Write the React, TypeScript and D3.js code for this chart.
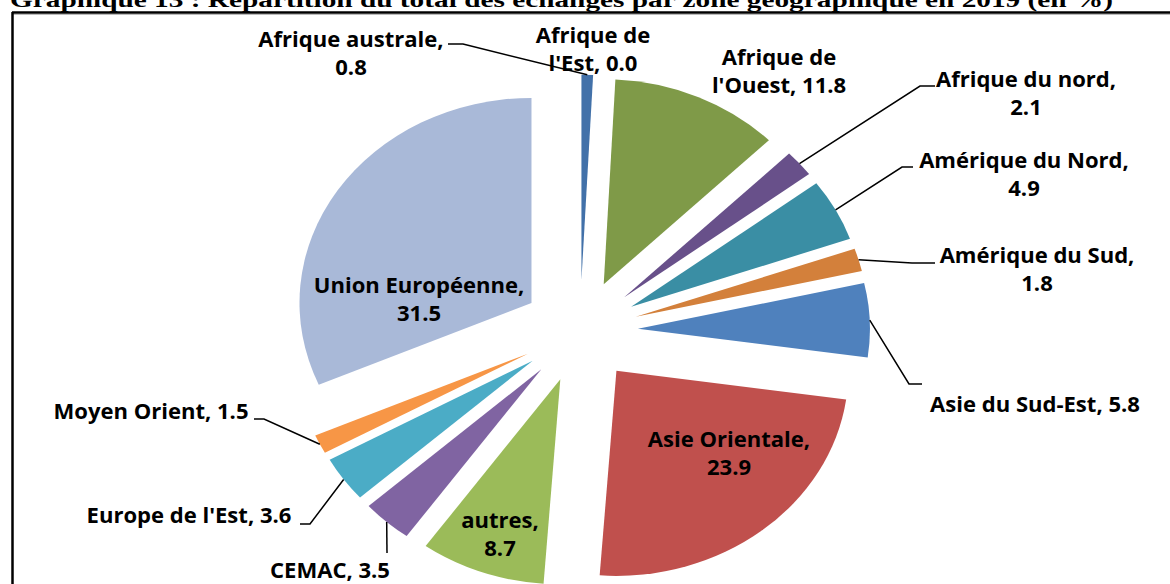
import React from "react";
import * as d3 from "d3";

// ---- data ----
const categories = [
  "Afrique australe",
  "Afrique de l'Est",
  "Afrique de l'Ouest",
  "Afrique du nord",
  "Amérique du Nord",
  "Amérique du Sud",
  "Asie du Sud-Est",
  "Asie Orientale",
  "autres",
  "CEMAC",
  "Europe de l'Est",
  "Moyen Orient",
  "Union Européenne",
];
const values = [0.8, 0.0, 11.8, 2.1, 4.9, 1.8, 5.8, 23.9, 8.7, 3.5, 3.6, 1.5, 31.5];
const colors = [
  "#4271A9", "#B84845", "#7F9A48", "#68508A", "#3A8EA4", "#D3803B",
  "#4F81BD", "#C0504D", "#9BBB59", "#8064A2", "#4BACC6", "#F79646", "#A9B9D8",
];
const title = "Graphique 13 : Répartition du total des échanges par zone géographique en 2019 (en %)";

// label layout: [line breaks, center x, first baseline, leader elbow points]
type Lbl = { lines: string[]; x: number; y: number; leader?: [number, number][] };
const labelLayout: Lbl[] = [
  { lines: ["Afrique australe,", "0.8"], x: 351, y: 47, leader: [[448, 44], [463, 44]] },
  { lines: ["Afrique de", "l'Est, 0.0"], x: 593, y: 43 },
  { lines: ["Afrique de", "l'Ouest, 11.8"], x: 779, y: 65 },
  { lines: ["Afrique du nord,", "2.1"], x: 1026, y: 87, leader: [[935, 86], [920, 86]] },
  { lines: ["Amérique du Nord,", "4.9"], x: 1024, y: 168, leader: [[913, 167], [902, 167]] },
  { lines: ["Amérique du Sud,", "1.8"], x: 1037, y: 263, leader: [[935, 263], [912, 263]] },
  { lines: ["Asie du Sud-Est,  5.8"], x: 1035, y: 412, leader: [[922, 384], [909, 384]] },
  { lines: ["Asie Orientale,", "23.9"], x: 729, y: 447 },
  { lines: ["autres,", "8.7"], x: 500, y: 528 },
  { lines: ["CEMAC, 3.5"], x: 330, y: 578, leader: [[387, 553]] },
  { lines: ["Europe de l'Est, 3.6"], x: 189, y: 523, leader: [[300, 524], [310, 524]] },
  { lines: ["Moyen Orient, 1.5"], x: 151, y: 419, leader: [[254, 419], [264, 419]] },
  { lines: ["Union Européenne,", "31.5"], x: 419, y: 293 },
];

const W = 1170;
const H = 584;
const cx = 580;
const cy = 331;
const R = 205;
const sx = 232 / 205; // horizontal stretch of the picture
const explode = 0.25 * R;
const lineH = 28;
const textStretch = 1.05;

export default function App() {
  const pie = d3
    .pie<number>()
    .sort(null)
    .value((d) => d)
    .startAngle(0)
    .endAngle(2 * Math.PI);
  const arcs = pie(values);
  const arc = d3.arc<d3.PieArcDatum<number>>().innerRadius(0).outerRadius(R);

  const anchorOf = (a: d3.PieArcDatum<number>): [number, number] => {
    const m = (a.startAngle + a.endAngle) / 2;
    const r = R + explode;
    return [cx + sx * r * Math.sin(m), cy - r * Math.cos(m)];
  };

  const line = d3.line();

  return (
    <svg
      width={W}
      height={H}
      style={{ position: "absolute", left: 0, top: 0, background: "#fff" }}
      fontFamily="'Open Sans', sans-serif"
    >
      <rect x={0} y={0} width={W} height={H} fill="#fff" />
      <text
        x={10}
        y={7}
        fontFamily="'Liberation Serif', 'Times New Roman', serif"
        fontWeight="bold"
        fontSize={22}
        textLength={1103}
        lengthAdjust="spacingAndGlyphs"
        fill="#000"
      >
        {title}
      </text>
      <line x1={12} y1={12.5} x2={W} y2={12.5} stroke="#000" strokeWidth={2.5} />
      <line x1={12} y1={14.5} x2={W} y2={14.5} stroke="#bbb" strokeWidth={1} />
      <line x1={12.5} y1={12} x2={12.5} y2={H} stroke="#000" strokeWidth={2.5} />

      <g transform={`translate(${cx},${cy}) scale(${sx},1)`}>
        {arcs.map((a, i) => {
          const m = (a.startAngle + a.endAngle) / 2;
          const dx = explode * Math.sin(m);
          const dy = -explode * Math.cos(m);
          return (
            <path
              key={categories[i]}
              d={arc(a) || ""}
              transform={`translate(${dx},${dy})`}
              fill={colors[i]}
            />
          );
        })}
      </g>

      {labelLayout.map((l, i) => {
        if (!l.leader) return null;
        const pts = [...l.leader, anchorOf(arcs[i])] as [number, number][];
        return (
          <path key={"ld" + i} d={line(pts) || ""} fill="none" stroke="#000" strokeWidth={1.5} />
        );
      })}

      {labelLayout.map((l, i) => (
        <g key={"lb" + i} transform={`translate(${l.x},${l.y}) scale(${textStretch},1)`}>
          <text textAnchor="middle" fontSize={21} fontWeight="bold" fill="#000">
            {l.lines.map((s, j) => (
              <tspan key={j} x={0} y={j * lineH}>
                {s}
              </tspan>
            ))}
          </text>
        </g>
      ))}
    </svg>
  );
}
